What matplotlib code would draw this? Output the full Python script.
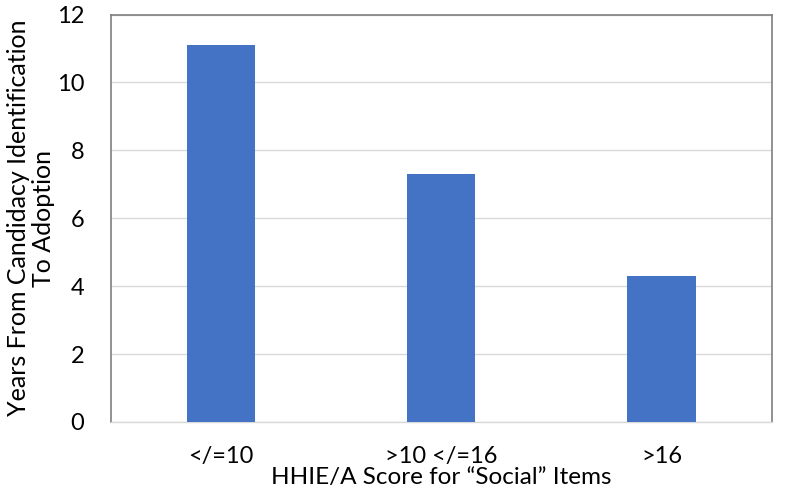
import matplotlib.pyplot as plt

categories = ["</=10", ">10 </=16", ">16"]
years = [11.1, 7.3, 4.3]

plt.rcParams["font.family"] = ["Lato", "DejaVu Sans"]

fig = plt.figure(figsize=(7.88, 5.03), dpi=100)
ax = fig.add_axes([110.7 / 788, 1 - 422 / 503, 661 / 788, 407.5 / 503])

ax.bar(categories, years, width=0.31, color="#4472C4", zorder=3)
ax.set_xlim(-0.5, 2.5)
ax.set_ylim(0, 12)
ax.set_yticks(range(0, 13, 2))
ax.grid(axis="y", color="#d9d9d9", linewidth=1, zorder=0)

for side in ["top", "left", "right"]:
    ax.spines[side].set_color("#7f7f7f")
    ax.spines[side].set_linewidth(1.2)
ax.spines["bottom"].set_color("#d9d9d9")
ax.spines["bottom"].set_linewidth(1)

ax.tick_params(axis="both", length=0, labelsize=17, colors="black")
ax.tick_params(axis="y", pad=19)
ax.tick_params(axis="x", pad=17)

ax.set_xlabel("HHIE/A Score for \u201cSocial\u201d Items", fontsize=17.5, labelpad=0)
ax.set_ylabel("Years From Candidacy Identification\nTo Adoption", fontsize=18,
              linespacing=1.1)
ax.yaxis.set_label_coords(-0.085, 0.5)

fig.savefig("out.png", dpi=100)
